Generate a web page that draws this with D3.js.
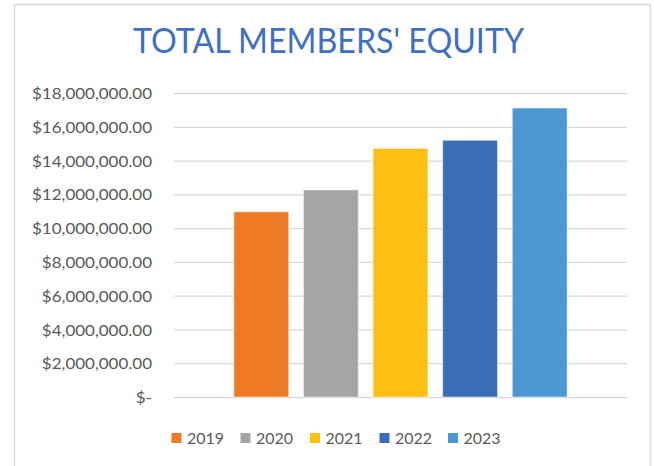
<!DOCTYPE html>
<html>
<head>
<meta charset="utf-8">
<script src="https://cdn.jsdelivr.net/npm/d3@7"></script>
<style>
body{margin:0;background:#fff}
svg{display:block}
</style>
</head>
<body>
<script>
// data
const years=["2019","2020","2021","2022","2023"]
const equity=[10970000,12260000,14720000,15200000,17110000]
const colors=["#EE7A25","#A5A5A3","#FDBF12","#3B6DB6","#4C98D2"]
const yTicks=[0,2000000,4000000,6000000,8000000,10000000,12000000,14000000,16000000,18000000]
const title="TOTAL MEMBERS' EQUITY"

const W=654,H=466
const font="Lato, 'Open Sans', sans-serif"

const svg=d3.select("body").append("svg")
	.attr("width",W)
	.attr("height",H)

// chart frame (bottom edge is cut off)
svg.append("path")
	.attr("d","M14.5,"+H+" L14.5,4.5 L650.5,4.5 L650.5,"+H)
	.attr("fill","none")
	.attr("stroke","#d9d9d9")
	.attr("stroke-width",1.5)

// squeeze a text to a given width (font is chosen for height)
function squeeze(sel,w){
	sel.attr("textLength",w).attr("lengthAdjust","spacingAndGlyphs")
}

svg.append("text")
	.attr("x",133)
	.attr("y",53)
	.attr("font-family",font)
	.attr("font-size",34.5)
	.attr("fill","#3F6FC0")
	.text(title)
	.call(squeeze,391)

const x=d3.scaleBand()
	.domain(years)
	.range([174,627])
	.paddingInner(0.212)
	.paddingOuter(0.86)

const y=d3.scaleLinear()
	.domain([0,18000000])
	.range([397,93])

const fmt=d=>d==0?"$-":"$"+d3.format(",.2f")(d)

// grid + y axis
const yAxis=d3.axisLeft(y)
	.tickValues(yTicks)
	.tickSize(-(627-174))
	.tickPadding(22)
	.tickFormat(fmt)

const ga=svg.append("g")
	.attr("transform","translate(174,0)")
	.call(yAxis)
ga.select(".domain").remove()
ga.selectAll(".tick line")
	.attr("stroke","#d9d9d9")
	.attr("stroke-width",1.3)
const tt=ga.selectAll(".tick text")
	.attr("font-family",font)
	.attr("font-size",15.5)
	.attr("fill","#595959")
	.attr("dy","0.36em")
// longest label should span 120px, scale the others the same way
const longest=tt.filter(d=>d==18000000).node().getComputedTextLength()
const k=120/longest
tt.each(function(){
	const n=this.getComputedTextLength()
	d3.select(this).call(squeeze,n*k)
})

// bars
svg.append("g").selectAll("rect")
	.data(equity)
	.enter().append("rect")
	.attr("x",(d,i)=>x(years[i]))
	.attr("y",d=>y(d))
	.attr("width",x.bandwidth())
	.attr("height",d=>y(0)-y(d))
	.attr("fill",(d,i)=>colors[i])
	.attr("stroke","#ffffff")
	.attr("stroke-opacity",0.5)
	.attr("stroke-width",1)

// legend
const legX=[171.5,240.5,310,379.5,448]
const leg=svg.append("g").selectAll("g")
	.data(years)
	.enter().append("g")
	.attr("transform",(d,i)=>"translate("+legX[i]+",433)")
leg.append("rect")
	.attr("width",10)
	.attr("height",10)
	.attr("fill",(d,i)=>colors[i])
leg.append("text")
	.attr("x",15.5)
	.attr("y",10.8)
	.attr("font-family",font)
	.attr("font-size",15.5)
	.attr("fill","#595959")
	.text(d=>d)
	.call(squeeze,37)
</script>
</body>
</html>
